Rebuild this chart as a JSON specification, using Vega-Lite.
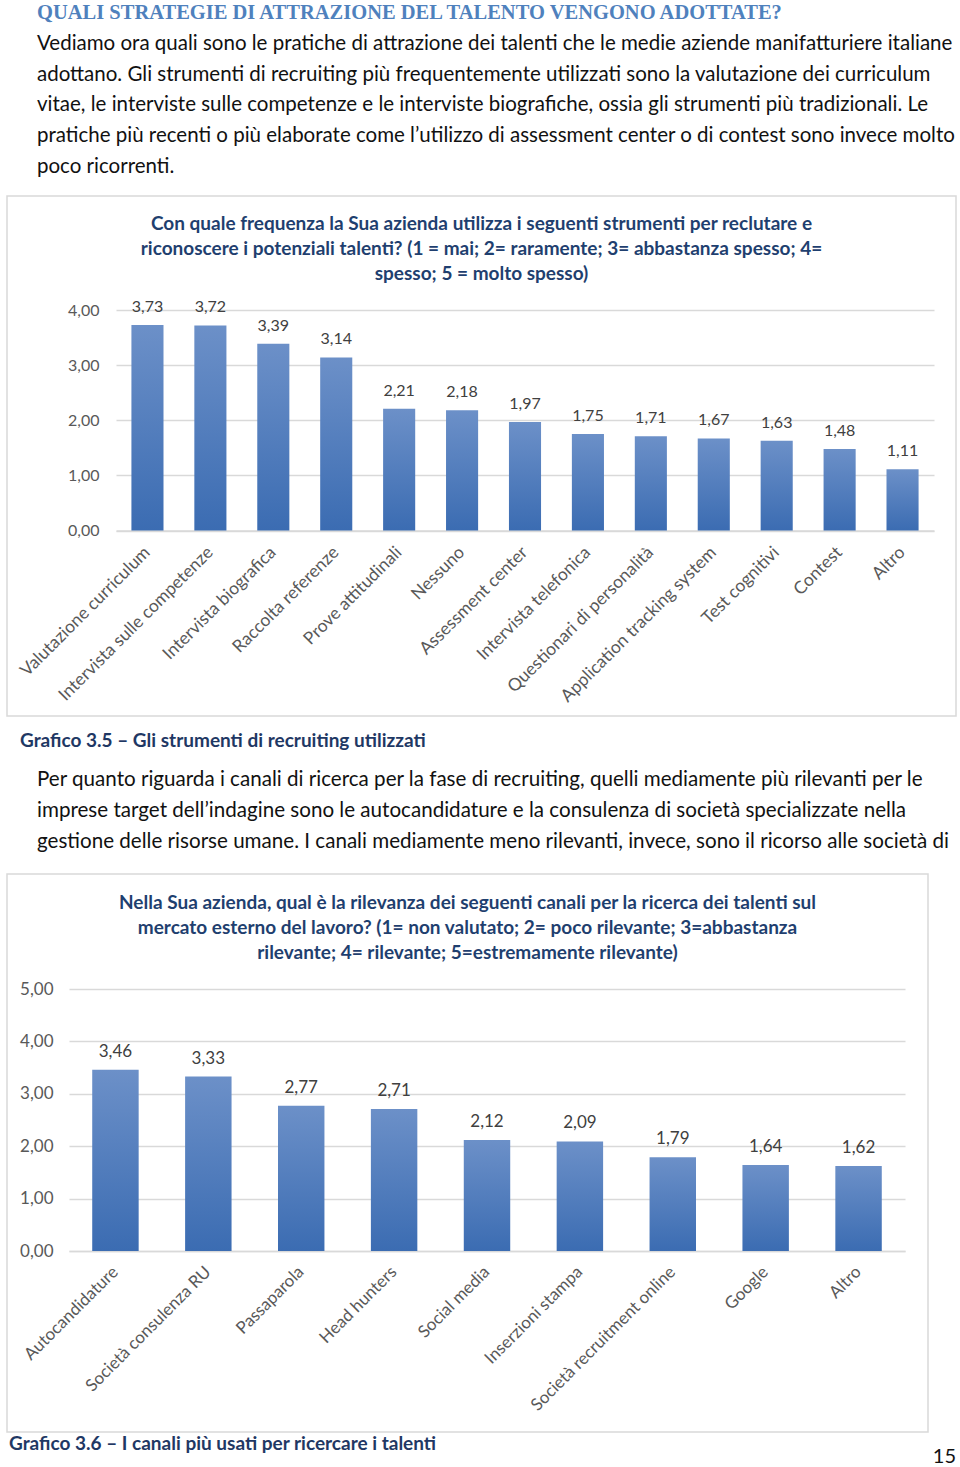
{
  "$schema": "https://vega.github.io/schema/vega-lite/v6.json",
  "background": "white",
  "padding": {"left": 6, "top": 0, "right": 0, "bottom": 0},
  "spacing": 0,
  "bounds": "flush",
  "config": {
    "view": {"stroke": null},
    "locale": {"number": {"decimal": ",", "thousands": ".", "grouping": [3], "currency": ["€", ""]}}
  },
  "vconcat": [
    {
      "width": 949,
      "height": 196,
      "view": {"stroke": null},
      "layer": [
        {
          "data": {"values": [{"line": 0, "text": "QUALI STRATEGIE DI ATTRAZIONE DEL TALENTO VENGONO ADOTTATE?"}]},
          "mark": {"type": "text", "align": "left", "baseline": "alphabetic", "font": "Liberation Serif", "fontWeight": "bold", "fontSize": 20.5, "color": "#4f81bd"},
          "encoding": {
            "x": {"value": 30},
            "y": {"field": "line", "type": "ordinal", "axis": null, "scale": {"type": "point", "range": [19, 173], "padding": 0}},
            "text": {"field": "text"}
          }
        },
        {
          "data": {"values": [
            {"line": 1, "text": "Vediamo ora quali sono le pratiche di attrazione dei talenti che le medie aziende manifatturiere italiane"},
            {"line": 2, "text": "adottano. Gli strumenti di recruiting più frequentemente utilizzati sono la valutazione dei curriculum"},
            {"line": 3, "text": "vitae, le interviste sulle competenze e le interviste biografiche, ossia gli strumenti più tradizionali. Le"},
            {"line": 4, "text": "pratiche più recenti o più elaborate come l’utilizzo di assessment center o di contest sono invece molto"},
            {"line": 5, "text": "poco ricorrenti."}
          ]},
          "mark": {"type": "text", "align": "left", "baseline": "alphabetic", "font": "Lato", "fontSize": 20.5, "color": "#111111"},
          "encoding": {
            "x": {"value": 30},
            "y": {"field": "line", "type": "ordinal", "axis": null},
            "text": {"field": "text"}
          }
        }
      ]
    },
    {
      "width": 949,
      "height": 520,
      "view": {"stroke": "#d9d9d9", "strokeWidth": 1.5},
      "title": {
        "text": ["Con quale frequenza la Sua azienda utilizza i seguenti strumenti per reclutare e", "riconoscere i potenziali talenti?  (1 = mai; 2= raramente; 3= abbastanza spesso; 4=", "spesso; 5 = molto spesso)"],
        "font": "Lato", "fontWeight": "bold", "fontSize": 19, "color": "#1f3f6f",
        "anchor": "middle", "frame": "group", "offset": -88, "baseline": "top", "lineHeight": 25
      },
      "data": {"values": [
        {"strumento": "Valutazione curriculum", "v": 3.73},
        {"strumento": "Intervista sulle competenze", "v": 3.72},
        {"strumento": "Intervista biografica", "v": 3.39},
        {"strumento": "Raccolta referenze", "v": 3.14},
        {"strumento": "Prove attitudinali", "v": 2.21},
        {"strumento": "Nessuno", "v": 2.18},
        {"strumento": "Assessment center", "v": 1.97},
        {"strumento": "Intervista telefonica", "v": 1.75},
        {"strumento": "Questionari di personalità", "v": 1.71},
        {"strumento": "Application tracking system", "v": 1.67},
        {"strumento": "Test cognitivi", "v": 1.63},
        {"strumento": "Contest", "v": 1.48},
        {"strumento": "Altro", "v": 1.11}
      ]},
      "encoding": {
        "x": {
          "field": "strumento", "type": "nominal", "sort": null,
          "scale": {"range": [109, 927], "paddingInner": 0.49, "paddingOuter": 0.245},
          "axis": {"orient": "bottom", "offset": -185.5, "title": null, "labelAngle": -45, "labelAlign": "right", "labelBaseline": "middle", "labelPadding": 19, "ticks": false, "domain": true, "domainColor": "#d9d9d9", "domainWidth": 1.5, "labelFont": "Lato", "labelFontSize": 17.5, "labelColor": "#595959", "labelLimit": 400, "labelOverlap": false}
        },
        "y": {
          "field": "v", "type": "quantitative",
          "scale": {"domain": [0, 4], "range": [334.5, 114], "nice": false},
          "axis": {"orient": "left", "offset": -100, "title": null, "values": [0, 1, 2, 3, 4], "format": ".2f", "grid": true, "gridColor": "#d9d9d9", "gridWidth": 1.5, "domain": false, "ticks": false, "labelPadding": 8, "labelFont": "Lato", "labelFontSize": 16, "labelColor": "#595959"}
        }
      },
      "layer": [
        {
          "mark": {"type": "bar", "color": {"gradient": "linear", "x1": 0, "y1": 0, "x2": 0, "y2": 1, "stops": [{"offset": 0, "color": "#6c90c8"}, {"offset": 1, "color": "#3b6cb2"}]}}
        },
        {
          "mark": {"type": "text", "dy": -13, "baseline": "alphabetic", "font": "Lato", "fontSize": 16, "color": "#404040"},
          "encoding": {"text": {"field": "v", "type": "quantitative", "format": ".2f"}}
        }
      ]
    },
    {
      "width": 949,
      "height": 158,
      "view": {"stroke": null},
      "layer": [
        {
          "data": {"values": [{"line": 0, "text": "Grafico 3.5 – Gli strumenti di recruiting utilizzati"}]},
          "mark": {"type": "text", "align": "left", "baseline": "alphabetic", "dy": -8, "font": "Lato", "fontWeight": "bold", "fontSize": 19, "color": "#1f3864"},
          "encoding": {
            "x": {"value": 13},
            "y": {"field": "line", "type": "ordinal", "axis": null, "scale": {"type": "point", "range": [39, 132], "padding": 0}},
            "text": {"field": "text"}
          }
        },
        {
          "data": {"values": [
            {"line": 1, "text": "Per quanto riguarda i canali di ricerca per la fase di recruiting, quelli mediamente più rilevanti per le"},
            {"line": 2, "text": "imprese target dell’indagine sono le autocandidature e la consulenza di società specializzate nella"},
            {"line": 3, "text": "gestione delle risorse umane. I canali mediamente meno rilevanti, invece, sono il ricorso alle società di"}
          ]},
          "mark": {"type": "text", "align": "left", "baseline": "alphabetic", "font": "Lato", "fontSize": 20.6, "color": "#111111"},
          "encoding": {
            "x": {"value": 30},
            "y": {"field": "line", "type": "ordinal", "axis": null},
            "text": {"field": "text"}
          }
        }
      ]
    },
    {
      "width": 921,
      "height": 558,
      "view": {"stroke": "#d9d9d9", "strokeWidth": 1.5},
      "title": {
        "text": ["Nella Sua azienda, qual è la rilevanza dei seguenti canali per la ricerca dei talenti sul", "mercato esterno del lavoro? (1= non valutato; 2= poco rilevante; 3=abbastanza", "rilevante; 4= rilevante; 5=estremamente rilevante)"],
        "font": "Lato", "fontWeight": "bold", "fontSize": 19, "color": "#1f3f6f",
        "anchor": "middle", "frame": "group", "offset": -89, "baseline": "top", "lineHeight": 25
      },
      "data": {"values": [
        {"canale": "Autocandidature", "v": 3.46},
        {"canale": "Società consulenza RU", "v": 3.33},
        {"canale": "Passaparola", "v": 2.77},
        {"canale": "Head hunters", "v": 2.71},
        {"canale": "Social media", "v": 2.12},
        {"canale": "Inserzioni stampa", "v": 2.09},
        {"canale": "Società recruitment online", "v": 1.79},
        {"canale": "Google", "v": 1.64},
        {"canale": "Altro", "v": 1.62}
      ]},
      "encoding": {
        "x": {
          "field": "canale", "type": "nominal", "sort": null,
          "scale": {"range": [62, 898], "paddingInner": 0.5, "paddingOuter": 0.25},
          "axis": {"orient": "bottom", "offset": -181, "title": null, "labelAngle": -45, "labelAlign": "right", "labelBaseline": "middle", "labelPadding": 18, "ticks": false, "domain": true, "domainColor": "#d9d9d9", "domainWidth": 1.5, "labelFont": "Lato", "labelFontSize": 17, "labelColor": "#595959", "labelLimit": 400, "labelOverlap": false}
        },
        "y": {
          "field": "v", "type": "quantitative",
          "scale": {"domain": [0, 5], "range": [377, 115], "nice": false},
          "axis": {"orient": "left", "offset": -54, "title": null, "values": [0, 1, 2, 3, 4, 5], "format": ".2f", "grid": true, "gridColor": "#d9d9d9", "gridWidth": 1.5, "domain": false, "ticks": false, "labelPadding": 8, "labelFont": "Lato", "labelFontSize": 17, "labelColor": "#595959"}
        }
      },
      "layer": [
        {
          "mark": {"type": "bar", "color": {"gradient": "linear", "x1": 0, "y1": 0, "x2": 0, "y2": 1, "stops": [{"offset": 0, "color": "#6c90c8"}, {"offset": 1, "color": "#3b6cb2"}]}}
        },
        {
          "mark": {"type": "text", "dy": -13, "baseline": "alphabetic", "font": "Lato", "fontSize": 17, "color": "#404040"},
          "encoding": {"text": {"field": "v", "type": "quantitative", "format": ".2f"}}
        }
      ]
    },
    {
      "width": 949,
      "height": 35,
      "view": {"stroke": null},
      "layer": [
        {
          "data": {"values": [{"text": "Grafico 3.6 – I canali più usati per ricercare i talenti"}]},
          "mark": {"type": "text", "align": "left", "baseline": "alphabetic", "font": "Lato", "fontWeight": "bold", "fontSize": 19, "color": "#1f3864"},
          "encoding": {"x": {"value": 2}, "y": {"value": 18}, "text": {"field": "text"}}
        },
        {
          "data": {"values": [{"text": "15"}]},
          "mark": {"type": "text", "align": "right", "baseline": "alphabetic", "font": "Lato", "fontSize": 20, "color": "#111111"},
          "encoding": {"x": {"value": 949}, "y": {"value": 31}, "text": {"field": "text"}}
        }
      ]
    }
  ]
}
